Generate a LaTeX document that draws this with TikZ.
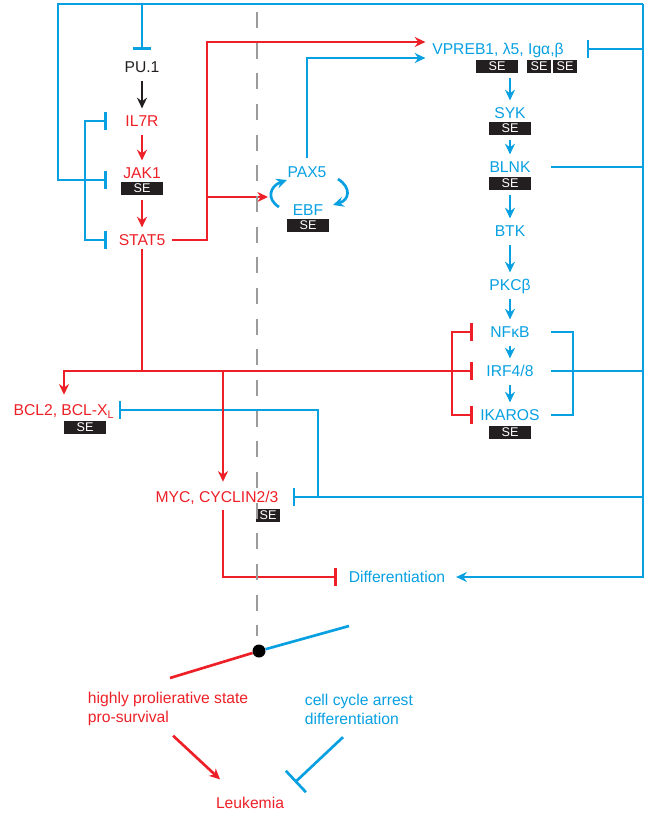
\documentclass[tikz,border=0pt]{standalone}
\usepackage{fontspec}
\setmainfont{Liberation Sans}
\usetikzlibrary{arrows.meta,calc}

\definecolor{leukred}{RGB}{237,32,39}
\definecolor{bcellblue}{RGB}{8,160,225}
\definecolor{sebg}{RGB}{35,31,32}
\definecolor{axisgray}{RGB}{155,155,155}

\begin{document}
\begin{tikzpicture}[x=0.75bp,y=-0.75bp,
    gene/.style={font=\fontsize{11.8}{14}\selectfont,inner sep=2bp,
                 text height=8.5bp,text depth=0bp,text=sebg},
    red gene/.style={gene,text=leukred},
    blue gene/.style={gene,text=bcellblue},
    se/.style={fill=sebg,text=white,font=\fontsize{9.5}{10}\selectfont,
               inner sep=0pt,minimum width=31.5bp,minimum height=9.75bp},
    se narrow/.style={se,minimum width=18bp},
    note/.style={font=\fontsize{11.8}{14.25}\selectfont,align=left,anchor=west,inner sep=2bp},
    red line/.style={draw=leukred,line width=2bp},
    blue line/.style={draw=bcellblue,line width=2bp},
    act/.style={-{Stealth[length=8bp,width=7.5bp]}},
    inh/.style={-{Bar[width=13.5bp]}},
    inh2/.style={{Bar[width=13.5bp]}-{Bar[width=13.5bp]}},
    chain/.style={act,shorten <=4bp,shorten >=3bp}]

  \useasboundingbox (0,0) rectangle (649,815);

  % pre-B receptor side
  \node[gene] (pu1) at (142,67) {PU.1};
  \node[red gene] (il7r) at (142,121) {IL7R};
  \node[red gene] (jak1) at (142,173) {JAK1};
  \node[se] (jak1se) at (142,188) {SE};
  \node[red gene] (stat5) at (142,240) {STAT5};

  \node[blue gene] (pax5) at (307,172) {PAX5};
  \node[blue gene] (ebf) at (308,210) {EBF};
  \node[se] (ebfse) at (308,225) {SE};

  \node[blue gene] (vpreb) at (498,49) {VPREB1, λ5, Igα,β};
  \node[se] (vpse1) at (497,66) {SE};
  \node[se narrow] (vpse2) at (539,66) {SE};
  \node[se narrow] (vpse3) at (565,66) {SE};
  \node[blue gene] (syk) at (510,113) {SYK};
  \node[se] (sykse) at (510,128) {SE};
  \node[blue gene] (blnk) at (510,167) {BLNK};
  \node[se] (blnkse) at (510,183) {SE};
  \node[blue gene] (btk) at (510,231) {BTK};
  \node[blue gene] (pkcb) at (510,285) {PKCβ};
  \node[blue gene] (nfkb) at (510,332) {NFκB};
  \node[blue gene] (irf) at (510,371) {IRF4/8};
  \node[blue gene] (ikaros) at (510,415) {IKAROS};
  \node[se] (ikse) at (510,432) {SE};

  \node[red gene] (bcl) at (64,410) {BCL2, BCL-X\textsubscript{L}};
  \node[se] (bclse) at (85,427) {SE};
  \node[red gene] (myc) at (217,497) {MYC, CYCLIN2/3};
  \node[se narrow] (mycse) at (268,515) {SE};
  \node[blue gene] (diff) at (397,577) {Differentiation};

  \node[circle,fill=black,inner sep=0pt,minimum size=9.75bp] (pivot) at (259,651) {};
  \node[note,text=leukred] (prolif) at (85,709) {highly prolierative state\\pro-survival};
  \node[note,text=bcellblue] (arrest) at (302,709) {cell cycle arrest\\differentiation};
  \node[red gene] (leuk) at (250,803) {Leukemia};

  \coordinate (top) at (0,4);
  \coordinate (rfrm) at (643,0);
  \coordinate (lfrm) at (58,0);
  \coordinate (lbar) at (107,0);
  \coordinate (lbrk) at (85,0);
  \coordinate (jakin) at (107,180);
  \coordinate (rsplit) at (207,0);
  \coordinate (cycin) at (268,197);
  \coordinate (rbar) at (473,0);
  \coordinate (rbrkl) at (452,0);
  \coordinate (rbrk) at (551,0);
  \coordinate (rbrkv) at (573,0);
  \coordinate (mycx) at (223,0);
  \coordinate (bcljoin) at (318,0);
  \coordinate (axistop) at (257,12);

  % signalling chains
  \draw[line width=2bp,draw=sebg,chain] (pu1) -- (il7r);
  \draw[red line,chain] (il7r) -- (jak1);
  \draw[red line,chain] (jak1se) -- (stat5);
  \draw[blue line,chain] (syk |- vpse1.south) -- (syk);
  \draw[blue line,chain] (sykse) -- (blnk);
  \draw[blue line,chain] (blnkse) -- (btk);
  \draw[blue line,chain] (btk) -- (pkcb);
  \draw[blue line,chain] (pkcb) -- (nfkb);
  \draw[blue line,chain] (nfkb) -- (irf);
  \draw[blue line,chain] (irf) -- (ikaros);

  % feedback frame
  \draw[blue line,act,shorten >=6bp] (rfrm |- top) |- (diff.east);
  \draw[blue line,inh] (rfrm |- top) -| (lfrm |- jakin) -- (jakin);
  \draw[blue line,inh] (pu1 |- top) -- ++(0,46);
  \draw[blue line,inh2] (lbar |- il7r) -| (lbrk |- stat5) -- (lbar |- stat5);
  \draw[blue line,inh] (rfrm |- vpreb) -- ([xshift=15bp]vpreb.east);
  \draw[blue line] ([xshift=13.5bp]blnk.east) -- (rfrm |- blnk);
  \draw[blue line] (rbrk |- nfkb) -| (rbrkv |- ikaros) -- (rbrk |- ikaros);
  \draw[blue line] (rbrk |- irf) -- (rfrm |- irf);
  \draw[blue line,inh] (rfrm |- myc) -- ([xshift=8.5bp]myc.east);
  \draw[blue line,inh] (bcljoin |- myc) |- ([xshift=1bp]bcl.east);

  % STAT5 outputs
  \draw[red line,act,shorten <=3bp] (stat5.east) -- (rsplit |- stat5) |- ([xshift=-3bp,yshift=5.25bp]vpreb.west);
  \draw[red line,act] (rsplit |- cycin) -- (cycin);
  \draw[blue line,act,shorten <=4bp] (pax5.north) |- ([xshift=-3bp,yshift=-6.75bp]vpreb.west);
  \draw[blue line,act] (279,207) .. controls (266,199) and (270,186) .. (287,180);
  \draw[blue line,act] (338,179) .. controls (352,188) and (349,200) .. (333,205);
  \draw[red line] (stat5.south) -- (stat5.south |- irf);
  \draw[red line,inh2] (rbar |- nfkb) -| (rbrkl |- ikaros) -- (rbar |- ikaros);
  \draw[red line,{Bar[width=13.5bp]}-{Stealth[length=8bp,width=7.5bp]},shorten >=5bp] (rbar |- irf) -| (bcl.north);
  \draw[red line,act,shorten >=5bp] (mycx |- irf) -- (mycx |- myc.north);
  \draw[red line,inh,shorten <=3bp] (mycx |- myc.south) |- ([xshift=-7bp]diff.west);

  % switch
  \draw[axisgray,line width=2.2bp,dash pattern=on 12bp off 11bp,shorten >=6bp] (axistop) -- (axistop |- pivot.north);
  \draw[red line] (pivot) -- (170,678);
  \draw[blue line] (pivot) -- (349,626);
  \draw[red line,act] ($(prolif.south)+(5,7)$) -- ($(leuk.north west)+(7,-15)$);
  \draw[blue line,-{Bar[width=22bp]}] ($(arrest.south west)+(41,10)$) -- ($(leuk.north east)+(8,-12)$);
\end{tikzpicture}
\end{document}
